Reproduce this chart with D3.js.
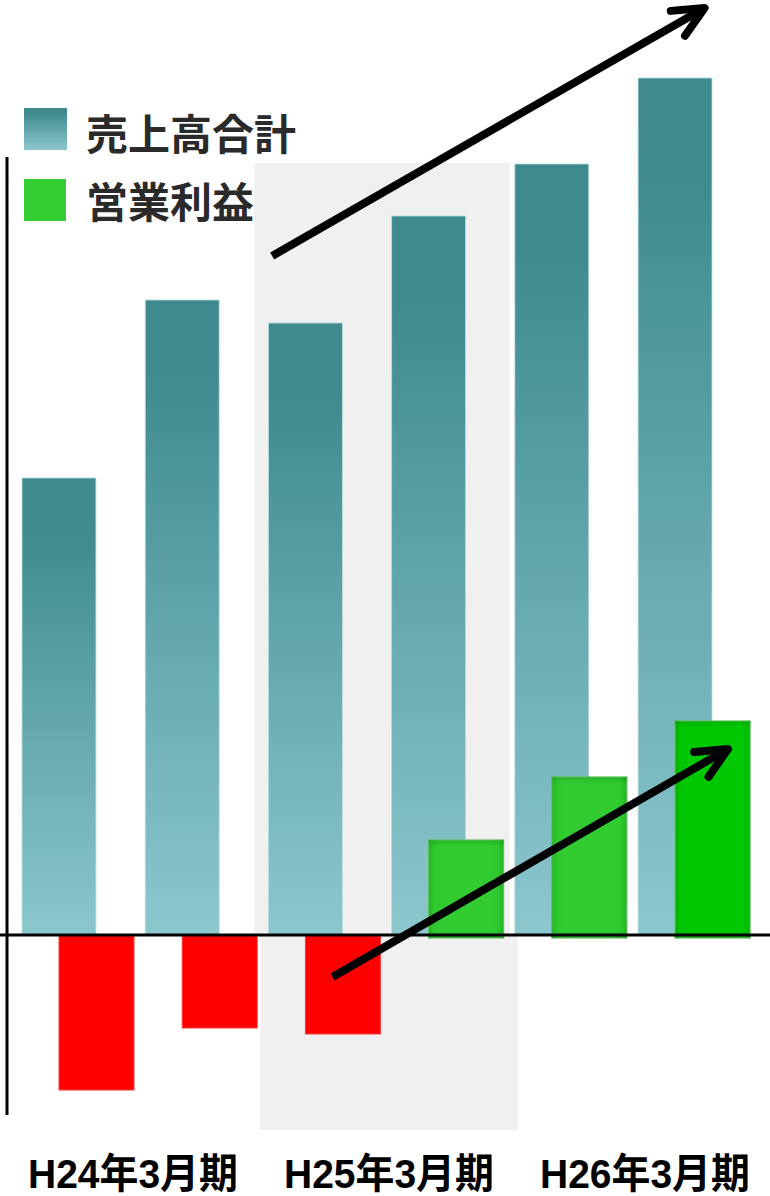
<!DOCTYPE html>
<html lang="ja">
<head>
<meta charset="utf-8">
<script src="https://cdn.jsdelivr.net/npm/d3@7"></script>
<style>
  html, body { margin: 0; padding: 0; background: #fff; }
  svg { display: block; }
</style>
</head>
<body>
<script>
// Half-year periods, revenue (売上高合計) and operating profit (営業利益)
const periods = ["H23/9", "H24/3", "H24/9", "H25/3", "H25/9", "H26/3"];
const revenue = [457, 635, 612, 719, 771, 857];
const profit = [-155, -93, -99, 95, 158, 214];
const fiscalLabels = ["H24年3月期", "H25年3月期", "H26年3月期"];
const legendNames = ["売上高合計", "営業利益"];

// Trend arrows in data space: [band position, value]
const revenueTrend = [[2.03, 679], [5.54, 927]];
const profitTrend = [[2.52, -42], [5.73, 186]];

const W = 770, H = 1196;
const svg = d3.select("body").append("svg").attr("width", W).attr("height", H);
const defs = svg.append("defs");

const x = d3.scaleBand().domain(periods).range([22, 712]).paddingInner(0.4).paddingOuter(0);
const y = d3.scaleLinear().domain([0, 935]).range([935, 0]);
const step = x.step();
const xPos = t => x(periods[0]) + t * step;
const profitOffset = 37, profitWidth = 75;

// Teal gradient for revenue bars
const tg = defs.append("linearGradient").attr("id", "teal").attr("x1", 0).attr("y1", 0).attr("x2", 0).attr("y2", 1);
tg.append("stop").attr("offset", "0%").attr("stop-color", "#3f8a8f");
tg.append("stop").attr("offset", "12%").attr("stop-color", "#3f8b90");
tg.append("stop").attr("offset", "100%").attr("stop-color", "#8cc7ce");

// Inner shadow for the positive profit bars
const f = defs.append("filter").attr("id", "inset").attr("x", "-10%").attr("y", "-10%").attr("width", "120%").attr("height", "120%");
f.append("feFlood").attr("flood-color", "#0f7f0f").attr("result", "c");
f.append("feComposite").attr("in", "c").attr("in2", "SourceAlpha").attr("operator", "out").attr("result", "o");
f.append("feGaussianBlur").attr("in", "o").attr("stdDeviation", 4.5).attr("result", "b");
f.append("feComposite").attr("in", "b").attr("in2", "SourceAlpha").attr("operator", "in").attr("result", "s");
const fm = f.append("feMerge");
fm.append("feMergeNode").attr("in", "SourceGraphic");
fm.append("feMergeNode").attr("in", "s");

// Highlight band for the middle fiscal year
const mid = periods.slice(2, 4);
svg.append("rect")
  .attr("x", x(mid[0]) - 14).attr("y", y(772))
  .attr("width", x(mid[1]) + x.bandwidth() + 44 - (x(mid[0]) - 14)).attr("height", y(0) - y(772))
  .attr("fill", "#f0f0f0");
svg.append("rect")
  .attr("x", x(mid[0]) - 8).attr("y", y(0))
  .attr("width", x(mid[1]) + profitOffset + profitWidth + 14 - (x(mid[0]) - 8)).attr("height", y(-195) - y(0))
  .attr("fill", "#f0f0f0");

// Revenue bars
svg.append("g").selectAll("rect").data(revenue).join("rect")
  .attr("x", (d, i) => x(periods[i]))
  .attr("y", d => y(d))
  .attr("width", x.bandwidth())
  .attr("height", d => y(0) - y(d))
  .attr("fill", "url(#teal)")
  .attr("stroke", "#b9dde0").attr("stroke-width", 0.8);

// Operating profit bars
const profitColor = (d, i) => d < 0 ? "#ff0000" : (i === profit.length - 1 ? "#00c800" : "#33cc33");
svg.append("g").selectAll("rect").data(profit).join("rect")
  .attr("x", (d, i) => x(periods[i]) + profitOffset)
  .attr("y", d => y(Math.max(d, 0)))
  .attr("width", profitWidth)
  .attr("height", d => Math.abs(y(d) - y(0)) + (d > 0 ? 3 : 0))
  .attr("fill", profitColor)
  .attr("stroke", d => d < 0 ? "#ff3a3a" : "#7fe07f")
  .attr("stroke-width", 1)
  .attr("filter", d => d > 0 ? "url(#inset)" : null);

// Axes lines
svg.append("line").attr("x1", 0).attr("x2", W).attr("y1", y(0)).attr("y2", y(0))
  .attr("stroke", "#000").attr("stroke-width", 3);
svg.append("line").attr("x1", 7).attr("x2", 7).attr("y1", 157).attr("y2", 1115)
  .attr("stroke", "#000").attr("stroke-width", 3);

// Trend arrows
function arrow(pts) {
  const [a, b] = pts.map(([t, v]) => [xPos(t), y(v)]);
  const dir = Math.atan2(b[1] - a[1], b[0] - a[0]);
  const g = svg.append("g").attr("stroke", "#000").attr("fill", "none").attr("stroke-width", 8);
  g.append("line").attr("x1", a[0]).attr("y1", a[1])
    .attr("x2", b[0] - 4 * Math.cos(dir)).attr("y2", b[1] - 4 * Math.sin(dir));
  const back = dir + Math.PI;
  const len = 34, spread = 25 * Math.PI / 180;
  const p1 = [b[0] + len * Math.cos(back - spread), b[1] + len * Math.sin(back - spread)];
  const p2 = [b[0] + len * Math.cos(back + spread), b[1] + len * Math.sin(back + spread)];
  g.append("path").attr("d", d3.line()([p1, b, p2]))
    .attr("stroke-linecap", "round").attr("stroke-linejoin", "round");
}
arrow(revenueTrend);
arrow(profitTrend);

// Legend
const legend = svg.append("g");
legend.append("rect").attr("x", 24).attr("y", 108).attr("width", 43).attr("height", 42).attr("fill", "url(#teal)");
legend.append("rect").attr("x", 24).attr("y", 179).attr("width", 42).attr("height", 42).attr("fill", "#33cc33");
legend.selectAll("text").data(legendNames).join("text")
  .attr("x", 86).attr("y", (d, i) => [131, 199][i])
  .attr("dominant-baseline", "central")
  .attr("font-family", "'Noto Sans CJK JP', sans-serif")
  .attr("font-weight", 700).attr("font-size", 42)
  .attr("fill", "#2a2a2a")
  .attr("stroke", "#ffffff").attr("stroke-width", 2).attr("paint-order", "stroke")
  .text(d => d);

// Fiscal year labels
svg.append("g").selectAll("text").data(fiscalLabels).join("text")
  .attr("x", (d, i) => 28 + i * 256)
  .attr("y", 1188)
  .attr("font-family", "'Liberation Sans', 'Noto Sans CJK JP', sans-serif")
  .attr("font-weight", 700).attr("font-size", 41)
  .attr("textLength", 210).attr("lengthAdjust", "spacingAndGlyphs")
  .attr("fill", "#000")
  .text(d => d);
</script>
</body>
</html>
